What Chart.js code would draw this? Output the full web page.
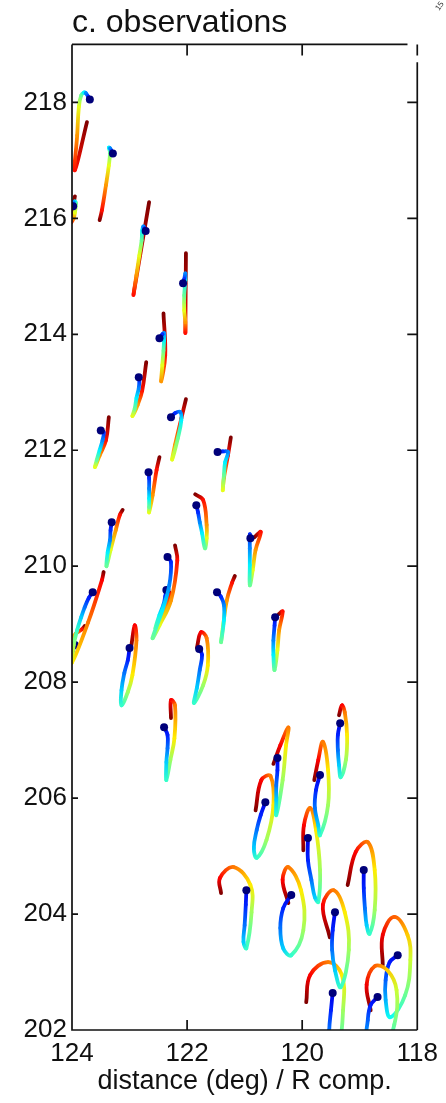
<!DOCTYPE html>
<html>
<head>
<meta charset="utf-8">
<script src="https://cdn.jsdelivr.net/npm/chart.js@4.4.0/dist/chart.umd.min.js"></script>
<style>
  html, body { margin: 0; padding: 0; background: #fff; }
</style>
</head>
<body>
<canvas id="obsChart" width="446" height="1103"></canvas>
<script>
// axis stuff
const chartTitle = 'c. observations';
const xTitle = 'distance (deg) / R comp.';
const xTickVals = [124, 122, 120, 118];
const yTickVals = [202, 204, 206, 208, 210, 212, 214, 216, 218];

// each trace is [distance, R] in time order, first point = start (dark blue dot)
const obs01 = [[123.69,218.05],[123.72,218.10],[123.76,218.16],[123.79,218.17],[123.84,218.12],[123.88,217.93],[123.91,217.43],[123.95,216.83],[123.74,217.66]];
const obs02 = [[123.29,217.12],[123.31,217.16],[123.34,217.21],[123.36,217.22],[123.34,217.14],[123.36,216.91],[123.41,216.57],[123.48,216.14],[123.52,215.97]];
const obs03 = [[123.98,216.21],[123.98,216.24],[123.97,216.28],[123.95,216.29],[123.93,216.26],[123.95,216.10],[123.97,216.00],[124.02,215.93],[123.95,216.38]];
const obs04 = [[122.72,215.78],[122.74,215.83],[122.76,215.86],[122.78,215.79],[122.79,215.62],[122.83,215.36],[122.88,215.02],[122.93,214.69],[122.66,216.28]];
const obs05 = [[122.07,214.88],[122.05,214.95],[122.03,215.05],[122.03,214.93],[122.05,214.67],[122.05,214.41],[122.03,214.21],[122.03,214.03],[122.02,215.40]];
const obs06 = [[122.48,213.93],[122.43,214.00],[122.40,214.02],[122.40,213.90],[122.41,213.72],[122.43,213.47],[122.45,213.19],[122.38,213.64],[122.41,214.36]];
const obs07 = [[122.84,213.26],[122.83,213.21],[122.84,213.07],[122.88,212.90],[122.91,212.72],[122.95,212.59],[122.86,212.78],[122.78,213.03],[122.71,213.52]];
const obs08 = [[122.28,212.57],[122.21,212.64],[122.12,212.66],[122.10,212.52],[122.16,212.21],[122.26,211.84],[122.21,212.09],[122.10,212.55],[122.02,212.88]];
const obs09 = [[123.50,212.34],[123.45,212.31],[123.47,212.17],[123.52,212.00],[123.57,211.83],[123.60,211.71],[123.52,211.91],[123.41,212.17],[123.36,212.57]];
const obs10 = [[121.47,211.97],[121.38,211.98],[121.29,211.97],[121.34,211.79],[121.36,211.57],[121.38,211.31],[121.36,211.52],[121.29,211.91],[121.24,212.22]];
const obs11 = [[123.31,210.76],[123.33,210.62],[123.34,210.45],[123.38,210.24],[123.40,210.00],[123.33,210.28],[123.24,210.62],[123.17,210.88],[123.12,210.97]];
const obs12 = [[122.67,211.62],[122.66,211.52],[122.66,211.34],[122.66,211.17],[122.66,211.02],[122.66,210.93],[122.60,211.22],[122.53,211.66],[122.48,211.88]];
const obs13 = [[121.84,211.05],[121.81,210.93],[121.78,210.76],[121.74,210.57],[121.69,210.31],[121.66,210.48],[121.66,210.71],[121.72,211.14],[121.86,211.24]];
const obs14 = [[120.90,210.48],[120.91,210.55],[120.91,210.31],[120.91,210.02],[120.91,209.67],[120.86,209.93],[120.81,210.28],[120.72,210.59],[120.83,210.50]];
const obs15 = [[122.34,210.16],[122.28,210.07],[122.31,209.67],[122.43,209.24],[122.60,208.76],[122.48,208.98],[122.28,209.41],[122.17,210.10],[122.21,210.36]];
const obs16 = [[122.36,209.59],[122.38,209.48],[122.41,209.34],[122.48,209.16],[122.55,208.93],[122.48,209.03],[122.38,209.29],[122.29,209.52],[122.33,209.57]];
const obs17 = [[123.64,209.55],[123.71,209.45],[123.78,209.29],[123.84,209.12],[123.91,208.90],[123.97,208.64],[124.00,208.34],[123.72,209.03],[123.48,209.76],[123.45,209.90]];
const obs18 = [[123.95,208.64],[123.98,208.55],[124.02,208.45],[124.05,208.38],[124.07,208.55],[124.03,208.72],[123.93,208.84],[123.83,208.91],[123.78,208.97]];
const obs19 = [[123.00,208.59],[123.03,208.38],[123.09,208.16],[123.14,207.86],[123.14,207.60],[123.03,207.83],[122.95,208.12],[122.88,208.72],[122.91,208.98],[122.97,208.62]];
const obs20 = [[121.79,208.57],[121.74,208.47],[121.78,208.21],[121.83,207.90],[121.88,207.64],[121.72,207.95],[121.64,208.29],[121.66,208.76],[121.76,208.86],[121.83,208.59]];
const obs21 = [[121.48,209.55],[121.41,209.47],[121.36,209.33],[121.36,209.07],[121.41,208.69],[121.38,208.93],[121.31,209.41],[121.22,209.71],[121.17,209.83]];
const obs22 = [[120.47,209.12],[120.48,208.98],[120.50,208.72],[120.50,208.47],[120.48,208.21],[120.43,208.55],[120.40,208.90],[120.34,209.22],[120.41,209.17]];
const obs23 = [[122.40,207.22],[122.34,207.09],[122.34,206.86],[122.36,206.62],[122.36,206.31],[122.29,206.66],[122.22,207.03],[122.21,207.60],[122.28,207.69],[122.28,207.38]];
const obs24 = [[120.43,206.69],[120.43,206.48],[120.45,206.22],[120.45,205.97],[120.45,205.71],[120.34,206.31],[120.28,206.91],[120.24,207.22],[120.38,206.91],[120.50,206.59]];
const obs25 = [[120.64,205.93],[120.72,205.71],[120.79,205.45],[120.84,205.14],[120.79,204.97],[120.62,205.28],[120.50,205.88],[120.55,206.38],[120.71,206.31],[120.81,205.79]];
const obs26 = [[119.69,206.40],[119.76,206.14],[119.78,205.83],[119.72,205.53],[119.69,205.36],[119.55,205.88],[119.55,206.48],[119.64,206.97],[119.72,206.66],[119.79,206.31]];
const obs27 = [[119.34,207.29],[119.38,207.09],[119.38,206.83],[119.36,206.57],[119.33,206.36],[119.24,206.66],[119.22,207.09],[119.26,207.48],[119.31,207.60],[119.36,207.43]];
const obs28 = [[119.90,205.31],[119.90,204.93],[119.84,204.59],[119.78,204.29],[119.72,204.21],[119.69,204.76],[119.76,205.45],[119.86,205.83],[119.97,205.53],[119.98,205.10]];
const obs29 = [[118.93,204.76],[118.93,204.45],[118.91,204.10],[118.88,203.81],[118.83,203.66],[118.74,204.07],[118.74,204.76],[118.86,205.24],[119.07,205.07],[119.21,204.50]];
const obs30 = [[120.97,204.41],[120.98,204.16],[121.00,203.81],[121.02,203.52],[120.97,203.41],[120.88,204.03],[120.90,204.50],[121.19,204.81],[121.43,204.62],[121.41,204.36]];
const obs31 = [[120.19,204.33],[120.33,204.10],[120.38,203.76],[120.33,203.41],[120.19,203.29],[119.98,203.72],[120.02,204.41],[120.24,204.81],[120.34,204.59],[120.24,204.19]];
const obs32 = [[119.43,204.03],[119.47,203.72],[119.48,203.38],[119.43,203.03],[119.33,202.74],[119.19,203.38],[119.26,204.03],[119.45,204.41],[119.64,204.16],[119.52,203.60]];
const obs33 = [[119.47,202.64],[119.50,202.34],[119.53,202.00],[119.52,201.66],[119.38,201.66],[119.29,202.34],[119.31,202.95],[119.55,203.17],[119.86,202.95],[119.93,202.48]];
const obs34 = [[118.69,202.57],[118.81,202.43],[118.86,202.17],[118.86,201.83],[118.60,201.66],[118.40,202.09],[118.36,202.69],[118.52,203.03],[118.74,203.10],[118.88,202.78],[118.81,202.34]];
const obs35 = [[118.34,203.29],[118.48,203.17],[118.55,202.86],[118.55,202.52],[118.47,202.22],[118.21,202.60],[118.12,203.21],[118.17,203.64],[118.40,203.95],[118.60,203.64],[118.60,203.12]];

const traces = [obs01, obs02, obs03, obs04, obs05, obs06, obs07, obs08, obs09, obs10,
  obs11, obs12, obs13, obs14, obs15, obs16, obs17, obs18, obs19, obs20,
  obs21, obs22, obs23, obs24, obs25, obs26, obs27, obs28, obs29, obs30,
  obs31, obs32, obs33, obs34, obs35];

// matlab style jet colormap, t from 0 (start) to 1 (end)
function jet(t) {
  const c = v => Math.round(255 * Math.max(0, Math.min(1, v)));
  const r = c(1.5 - Math.abs(4 * t - 3));
  const g = c(1.5 - Math.abs(4 * t - 2));
  const b = c(1.5 - Math.abs(4 * t - 1));
  return `rgb(${r},${g},${b})`;
}
// the line leaves the dark navy behind fast, and stays green/yellow a bit longer
const lineColor = t => jet(0.1 + 0.9 * Math.pow(t, 1.25));

// later times get drawn underneath, so the points go in reversed
const datasets = traces.map(tr => ({
  data: tr.slice().reverse().map(p => ({x: p[0], y: p[1]})),
  borderColor: jet(0.5),
  borderWidth: 3.8,
  borderCapStyle: 'round',
  borderJoinStyle: 'round',
  tension: 0.4,
  fill: false,
  pointRadius: ctx => ctx.dataIndex === tr.length - 1 ? 4 : 0,
  pointBackgroundColor: '#00007a',
  pointBorderWidth: 0,
  pointHoverRadius: 0,
  segment: {
    borderColor: ctx => {
      const n = tr.length - 1;
      const g = ctx.chart.ctx.createLinearGradient(ctx.p0.x, ctx.p0.y, ctx.p1.x, ctx.p1.y);
      g.addColorStop(0, lineColor(1 - ctx.p0DataIndex / n));
      g.addColorStop(1, lineColor(1 - ctx.p1DataIndex / n));
      return g;
    }
  }
}));

// box around the plot - the top and right edges don't meet in the original
const framePlugin = {
  id: 'frame',
  afterDraw(chart) {
    const {ctx, chartArea: a, scales} = chart;
    const xs = scales.x, ys = scales.y;
    ctx.save();
    ctx.strokeStyle = '#111';
    ctx.lineWidth = 1.7;
    ctx.beginPath();
    ctx.moveTo(a.left, a.top);
    ctx.lineTo(a.left, a.bottom);
    ctx.lineTo(a.right, a.bottom);
    ctx.moveTo(a.left, a.top);
    ctx.lineTo(xs.getPixelForValue(118.17), a.top);
    ctx.moveTo(a.right, ys.getPixelForValue(218.69));
    ctx.lineTo(a.right, a.bottom);
    yTickVals.forEach(v => {
      const py = ys.getPixelForValue(v);
      ctx.moveTo(a.left, py); ctx.lineTo(a.left + 6, py);
      ctx.moveTo(a.right, py); ctx.lineTo(a.right - 10, py);
    });
    xTickVals.forEach(v => {
      const px = xs.getPixelForValue(v);
      ctx.moveTo(px, a.top); ctx.lineTo(px, a.top + 11);
      ctx.moveTo(px, a.bottom); ctx.lineTo(px, a.bottom - 10);
    });
    ctx.stroke();
    // little cut off label in the corner
    ctx.translate(439, 11);
    ctx.rotate(-0.95);
    ctx.fillStyle = '#333';
    ctx.font = '8px "Liberation Sans", Arial, sans-serif';
    ctx.fillText('15', 0, 0);
    ctx.restore();
  }
};

Chart.defaults.font.family = '"Liberation Sans", Arial, Helvetica, sans-serif';

new Chart(document.getElementById('obsChart'), {
  type: 'line',
  data: {datasets: datasets},
  plugins: [framePlugin],
  options: {
    responsive: false,
    animation: false,
    events: [],
    layout: {padding: {left: 0, right: 26, top: 0, bottom: 0}},
    plugins: {
      legend: {display: false},
      tooltip: {enabled: false},
      title: {
        display: true,
        text: chartTitle,
        align: 'start',
        fullSize: false,
        color: '#111',
        font: {size: 32, weight: 'normal'},
        padding: {top: 4, bottom: 2}
      }
    },
    scales: {
      x: {
        type: 'linear',
        position: 'bottom',
        min: 118,
        max: 124,
        reverse: true,
        afterBuildTicks: s => { s.ticks = xTickVals.map(v => ({value: v})); },
        afterFit: s => { s.height = 73; },
        grid: {display: false, drawTicks: false},
        border: {display: false},
        ticks: {font: {size: 26}, color: '#111', padding: 8, maxRotation: 0, autoSkip: false},
        title: {display: true, text: xTitle, color: '#111', font: {size: 27}, padding: {top: 0, bottom: 5}}
      },
      y: {
        type: 'linear',
        min: 202,
        max: 219,
        afterBuildTicks: s => { s.ticks = yTickVals.map(v => ({value: v})); },
        afterFit: s => { s.width = 72; },
        grid: {display: false, drawTicks: false},
        border: {display: false},
        ticks: {font: {size: 26}, color: '#111', padding: 5}
      }
    }
  }
});
</script>
</body>
</html>
